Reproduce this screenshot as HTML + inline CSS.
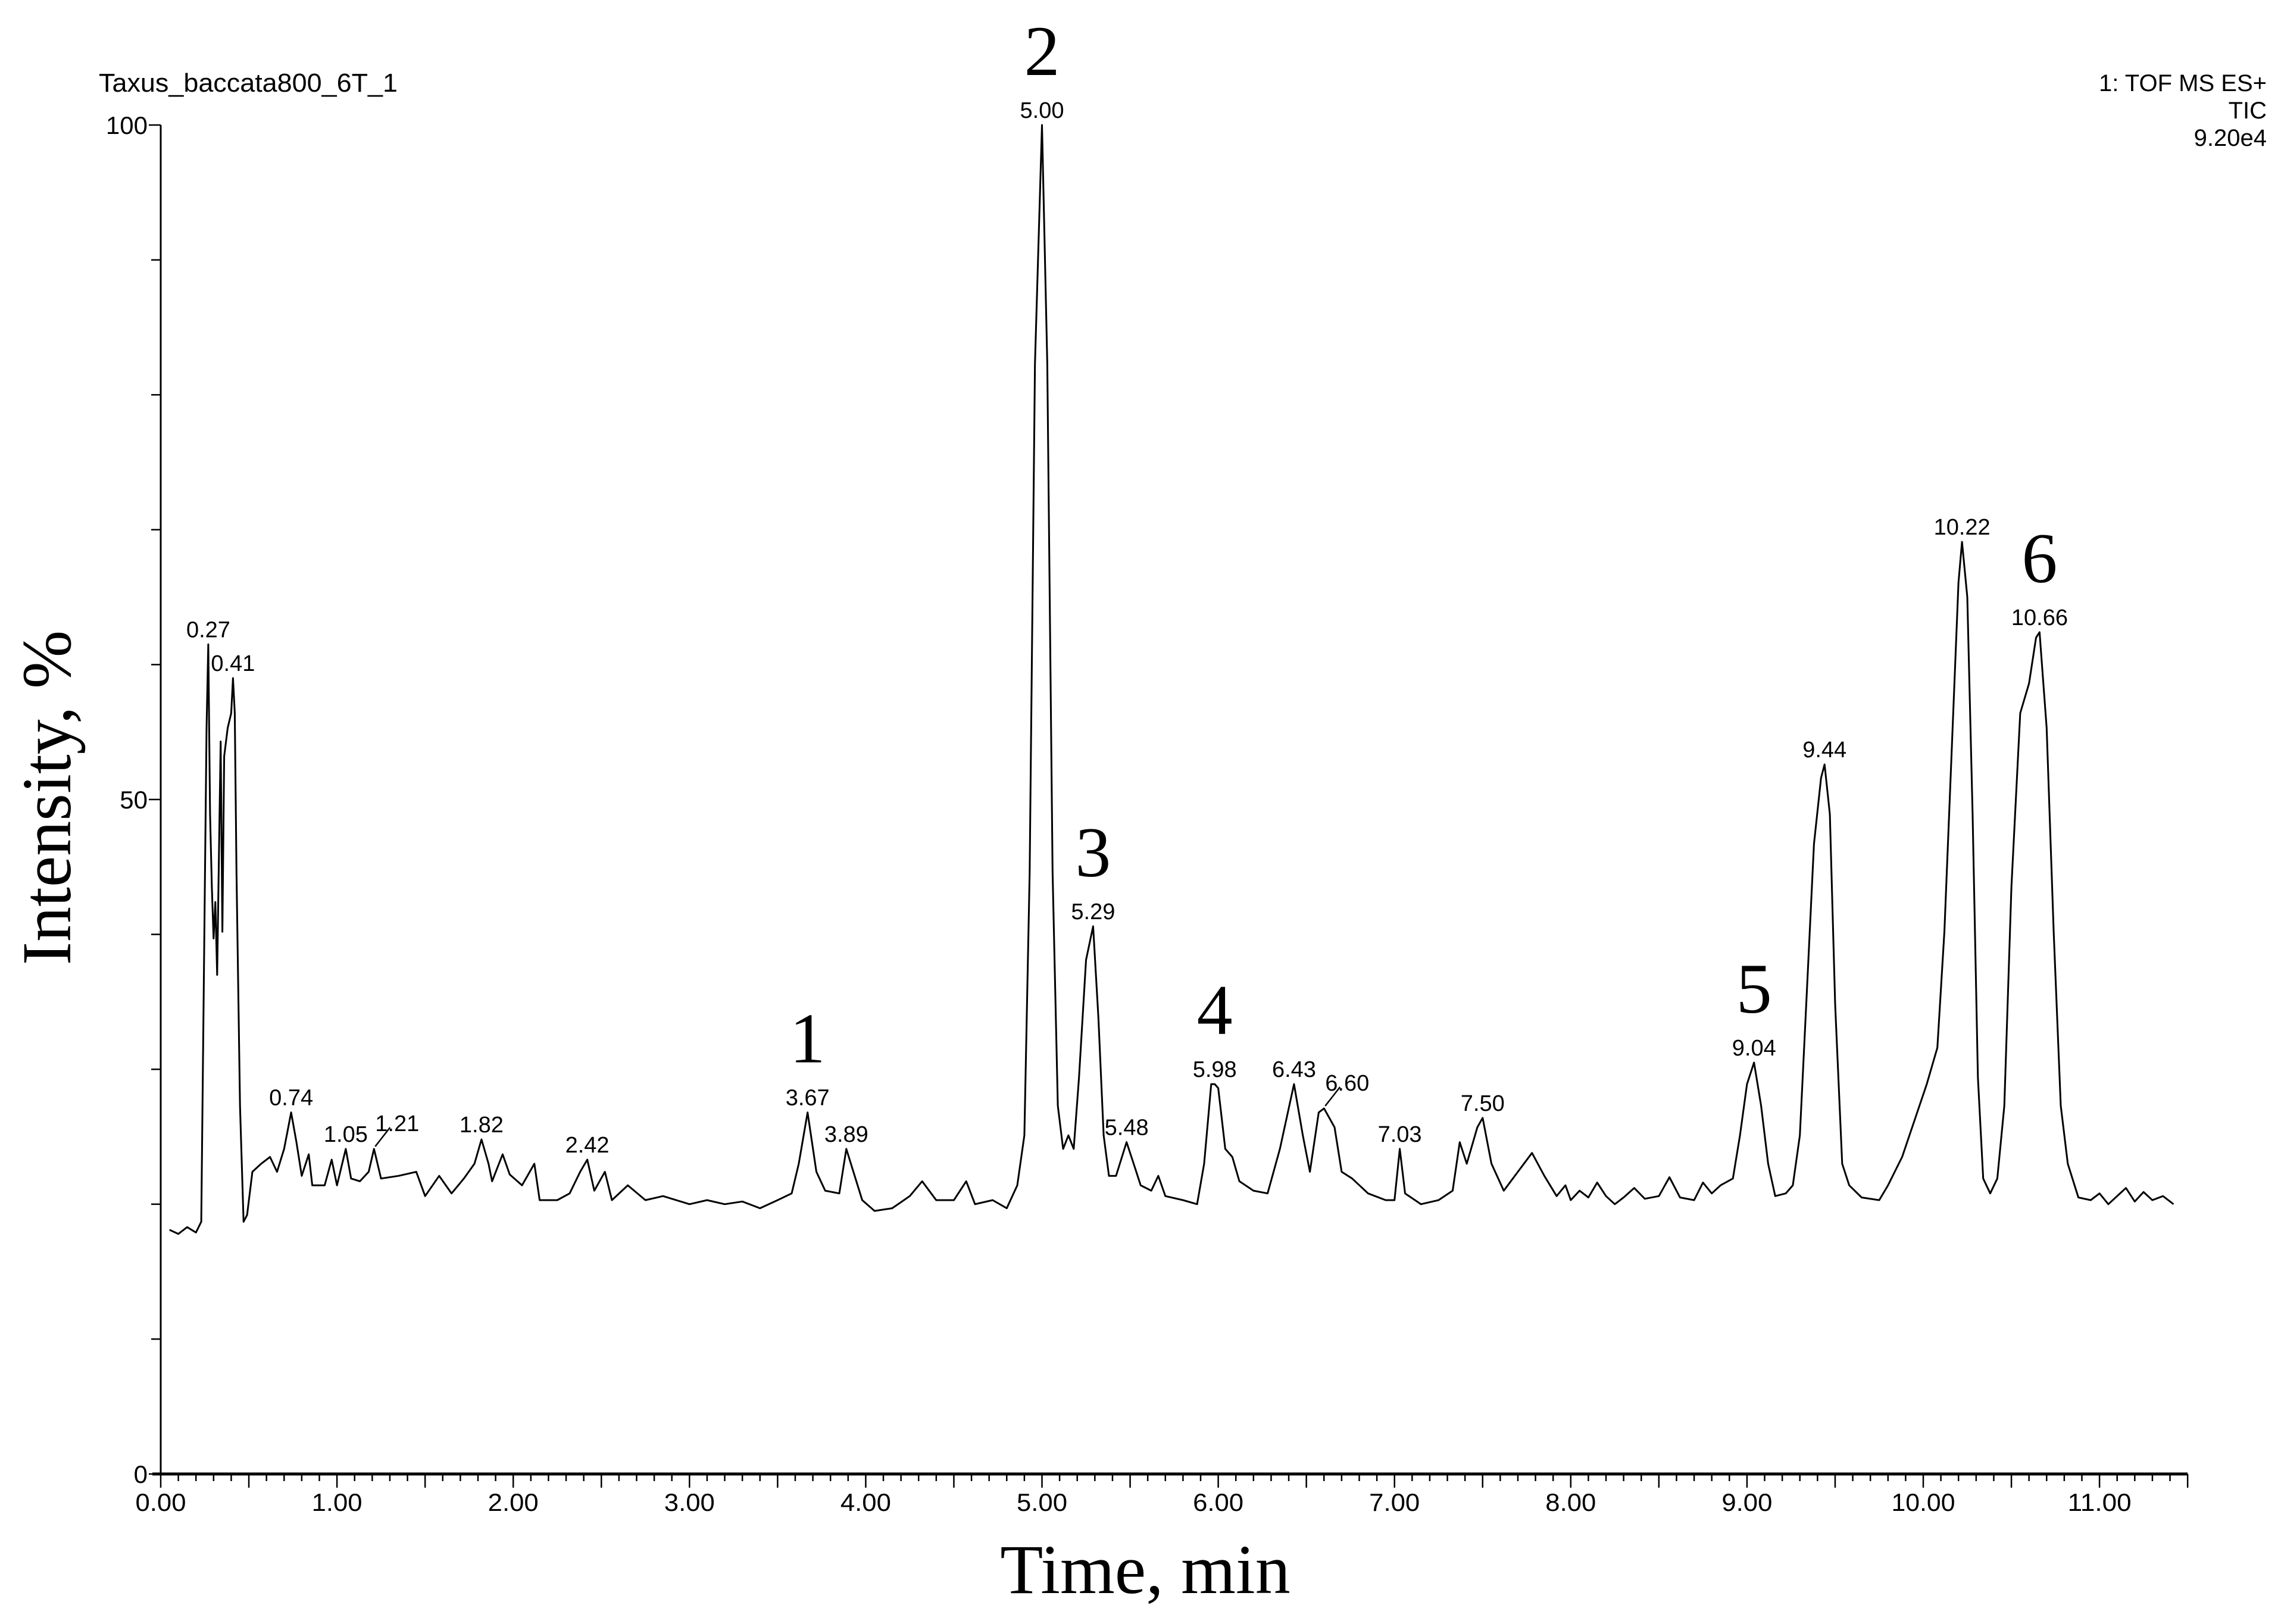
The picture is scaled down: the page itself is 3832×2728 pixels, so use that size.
<!DOCTYPE html>
<html><head><meta charset="utf-8"><style>
html,body{margin:0;padding:0;background:#fff;}
svg{display:block;}
</style></head><body>
<svg id="chart" width="3832" height="2728" viewBox="0 0 3832 2728" xmlns="http://www.w3.org/2000/svg">
<rect width="3832" height="2728" fill="#fff"/>
<text x="166" y="154" font-family="Liberation Sans, sans-serif" font-size="44" textLength="502" lengthAdjust="spacingAndGlyphs">Taxus_baccata800_6T_1</text>
<g font-family="Liberation Sans, sans-serif" font-size="40" text-anchor="end">
<text x="3808" y="153">1: TOF MS ES+</text>
<text x="3808" y="199">TIC</text>
<text x="3808" y="245">9.20e4</text>
</g>
<text transform="translate(118,1340) rotate(-90)" text-anchor="middle" font-family="Liberation Serif, serif" font-size="118">Intensity, %</text>
<text x="1924" y="2676" text-anchor="middle" font-family="Liberation Serif, serif" font-size="118">Time, min</text>
<g id="axes"></g>
<g id="trace"></g>
<g id="labels"></g>
</svg>
<script>
const times = [0.05,0.10,0.15,0.20,0.23,0.26,0.27,0.28,0.29,0.30,0.31,0.32,0.34,0.35,0.36,0.38,0.40,0.41,0.42,0.43,0.45,0.47,0.49,0.52,0.57,0.62,0.66,0.70,0.74,0.77,0.80,0.84,0.86,0.93,0.97,1.00,1.05,1.08,1.13,1.18,1.21,1.25,1.35,1.45,1.50,1.58,1.65,1.72,1.78,1.82,1.86,1.88,1.94,1.98,2.05,2.12,2.15,2.25,2.32,2.38,2.42,2.46,2.52,2.56,2.65,2.75,2.85,3.00,3.10,3.20,3.30,3.40,3.50,3.58,3.62,3.67,3.72,3.77,3.85,3.89,3.93,3.98,4.05,4.15,4.25,4.32,4.40,4.50,4.57,4.62,4.72,4.80,4.86,4.90,4.93,4.96,5.00,5.03,5.06,5.09,5.12,5.15,5.18,5.21,5.25,5.29,5.32,5.35,5.38,5.42,5.48,5.52,5.56,5.62,5.66,5.70,5.80,5.88,5.92,5.96,5.98,6.00,6.04,6.08,6.12,6.20,6.28,6.35,6.43,6.48,6.52,6.57,6.60,6.66,6.70,6.76,6.85,6.95,7.00,7.03,7.06,7.15,7.25,7.33,7.37,7.41,7.47,7.50,7.55,7.62,7.70,7.78,7.85,7.92,7.97,8.00,8.05,8.10,8.15,8.20,8.25,8.30,8.36,8.42,8.50,8.56,8.62,8.70,8.75,8.80,8.85,8.92,8.96,9.00,9.04,9.08,9.12,9.16,9.22,9.26,9.30,9.34,9.38,9.42,9.44,9.47,9.50,9.54,9.58,9.65,9.75,9.80,9.88,9.95,10.02,10.08,10.12,10.16,10.20,10.22,10.25,10.28,10.31,10.34,10.38,10.42,10.46,10.50,10.55,10.60,10.64,10.66,10.70,10.74,10.78,10.82,10.88,10.95,11.00,11.05,11.10,11.15,11.20,11.25,11.30,11.36,11.42];
const intensity = [18.1,17.8,18.3,17.9,18.7,55.3,61.5,48.9,43.5,39.7,42.4,37.0,54.3,40.2,53.2,55.3,56.4,59.0,56.4,44.6,27.3,18.7,19.2,22.4,23.0,23.5,22.4,24.1,26.8,24.6,22.1,23.7,21.4,21.4,23.3,21.4,24.1,21.9,21.7,22.4,24.1,21.9,22.1,22.4,20.6,22.1,20.8,21.9,23.0,24.8,23.0,21.7,23.7,22.2,21.4,23.0,20.3,20.3,20.8,22.4,23.3,21.0,22.4,20.3,21.4,20.3,20.6,20.0,20.3,20.0,20.2,19.7,20.3,20.8,23.0,26.8,22.4,21.0,20.8,24.1,22.4,20.3,19.5,19.7,20.6,21.7,20.3,20.3,21.7,20.0,20.3,19.7,21.4,25.1,44.6,82.3,100,82.3,44.6,27.3,24.1,25.1,24.1,29.4,38.1,40.6,33.8,25.1,22.1,22.1,24.6,23.0,21.4,21.0,22.1,20.6,20.3,20.0,23.0,28.9,28.9,28.6,24.1,23.5,21.7,21.0,20.8,24.1,28.9,25.1,22.4,26.8,27.1,25.7,22.4,21.9,20.8,20.3,20.3,24.1,20.8,20.0,20.3,21.0,24.6,23.0,25.7,26.4,23.0,21.0,22.4,23.8,22.1,20.6,21.4,20.3,21.0,20.5,21.6,20.6,20.0,20.5,21.2,20.4,20.6,22.0,20.5,20.3,21.6,20.8,21.4,21.9,25.1,28.9,30.5,27.3,23.0,20.6,20.8,21.4,25.1,35.9,46.7,51.6,52.6,48.9,34.8,23.0,21.4,20.5,20.3,21.4,23.5,26.2,28.9,31.6,40.2,53.2,66.1,69.1,65.0,48.9,29.4,21.9,20.8,21.9,27.3,43.5,56.4,58.6,62.0,62.4,55.3,40.2,27.3,23.0,20.5,20.3,20.8,20.0,20.6,21.2,20.2,20.9,20.3,20.6,20.0];
const peakTimes = [0.27,0.41,0.74,1.05,1.21,1.82,2.42,3.67,3.89,5.00,5.29,5.48,5.98,6.43,6.60,7.03,7.50,9.04,9.44,10.22,10.66];
const peakLabels = ["0.27","0.41","0.74","1.05","1.21","1.82","2.42","3.67","3.89","5.00","5.29","5.48","5.98","6.43","6.60","7.03","7.50","9.04","9.44","10.22","10.66"];
const peakIntensity = [61.5,59.0,26.8,24.1,24.1,24.8,23.3,26.8,24.1,100,40.6,24.6,28.9,28.9,27.1,24.1,26.4,30.5,52.6,69.1,62.4];
const leaderPeaks = ["1.21","6.60"];
const compoundNumbers = ["1","2","3","4","5","6"];
const compoundPeaks = ["3.67","5.00","5.29","5.98","9.04","10.66"];
const yTickLabels = ["0","50","100"];
const xTickLabels = ["0.00","1.00","2.00","3.00","4.00","5.00","6.00","7.00","8.00","9.00","10.00","11.00"];

const NS = "http://www.w3.org/2000/svg";
const X0 = 270, XS = 296.1, Y0 = 2476, YS = 22.66;
function xs(t){ return X0 + t*XS; }
function ys(v){ return Y0 - v*YS; }
function mk(tag, attrs, parent){ const e=document.createElementNS(NS,tag); for(const k in attrs) e.setAttribute(k,attrs[k]); parent.appendChild(e); return e; }

const axes = document.getElementById('axes');
const yAxis = mk('line',{x1:X0,y1:ys(100),x2:X0,y2:Y0,stroke:'#000','stroke-width':3},axes);


const xAxis = mk('line',{x1:X0-14,y1:Y0,x2:xs(11.5),y2:Y0,stroke:'#000','stroke-width':5},axes);


for(let i=0;i<=10;i++){
  const v=i*10, len=(i%5===0)?20:16;
  const tk = mk('line',{x1:X0-len,y1:ys(v),x2:X0,y2:ys(v),stroke:'#000','stroke-width':2.5},axes);
  
  
}
yTickLabels.forEach(l=>{
  const t = mk('text',{x:X0-22,y:ys(+l)+15,'text-anchor':'end','font-family':'Liberation Sans, sans-serif','font-size':42},axes);
  t.textContent=l;
  
  
});
for(let i=0;i<=115;i++){
  const t=i/10, len=(i%5===0)?23:12;
  const tk = mk('line',{x1:xs(t),y1:Y0,x2:xs(t),y2:Y0+len,stroke:'#000','stroke-width':2.5},axes);
  
  
}
xTickLabels.forEach(l=>{
  const t = mk('text',{x:xs(+l),y:Y0+62,'text-anchor':'middle','font-family':'Liberation Sans, sans-serif','font-size':42,textLength:(l.length>4?107:85),lengthAdjust:'spacingAndGlyphs'},axes);
  t.textContent=l;
  
  
});

const trace = document.getElementById('trace');
let d = '';
times.forEach((t,i)=>{ d += (i?'L':'M') + xs(t).toFixed(1) + ' ' + ys(intensity[i]).toFixed(1) + ' '; });
const path = mk('path',{d:d,fill:'none',stroke:'#000','stroke-width':3,'stroke-linejoin':'round'},trace);



const labels = document.getElementById('labels');
const baseOf = {};
peakLabels.forEach((l,i)=>{
  const px = xs(peakTimes[i]), py = ys(peakIntensity[i]);
  let tx = px, ty = py - 12;
  if(leaderPeaks.includes(l)){
    tx = px + 39; ty = py - 30;
    const ld = mk('line',{x1:px+2,y1:py-4,x2:px+27,y2:py-36,stroke:'#000','stroke-width':2.5},labels);
    
    
  }
  const t = mk('text',{x:tx,y:ty,'text-anchor':'middle','font-family':'Liberation Sans, sans-serif','font-size':38},labels);
  t.textContent = l;
  
  
  baseOf[l] = {x:tx, y:ty};
});
compoundNumbers.forEach((n,i)=>{
  const b = baseOf[compoundPeaks[i]];
  const t = mk('text',{x:b.x,y:b.y-72,'text-anchor':'middle','font-family':'Liberation Serif, serif','font-size':120},labels);
  t.textContent = n;
  
  
});
</script>
</body></html>
